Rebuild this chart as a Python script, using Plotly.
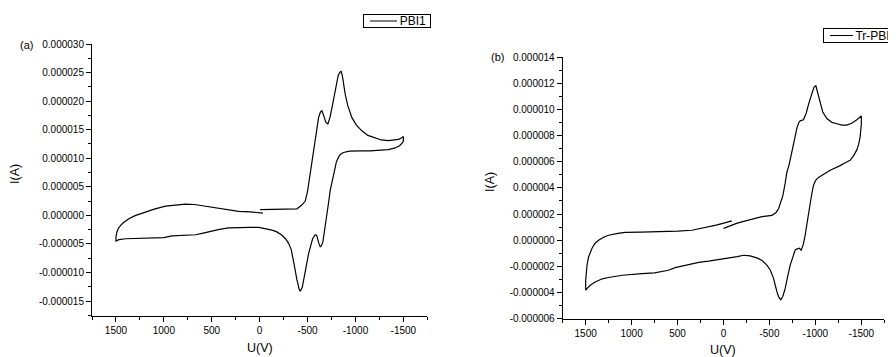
import plotly.graph_objects as go

# ---------------- data (U in V, I in microampere) ----------------
u_pbi1 = [-5, -100, -200, -300, -389, -440, -476, -500, -511, -528, -545, -565, -580, -600, -615,
          -635, -650, -668, -690, -712, -735, -760, -790, -820, -840, -851, -865, -880, -893, -920,
          -963, -1010, -1067, -1130, -1206, -1270, -1344, -1400, -1449, -1480, -1500,
          -1500, -1490, -1460, -1414, -1344, -1250, -1150, -1050, -997, -940, -875, -845, -823, -800,
          -789, -770, -750, -737, -720, -702, -685, -670, -660, -645, -632, -620, -608, -595, -580,
          -565, -553, -535, -511, -490, -470, -459, -445, -424, -410, -400, -389, -370, -354, -330,
          -302, -270, -233, -180, -129, -60, 10, 100, 200, 323, 420, 531, 600, 670, 800, 913, 1000,
          1100, 1261, 1400, 1469, 1500,
          1500, 1490, 1475, 1451, 1420, 1365, 1300, 1191, 1100, 983, 880, 774, 680, 566, 470, 392,
          300, 219, 100, 10, -35]
i_pbi1 = [1.0, 1.05, 1.0, 1.05, 1.15, 1.8, 2.5, 4.2, 5.5, 7.0, 9.0, 11.2, 12.8, 15.5, 17.1,
          18.1, 18.3, 17.5, 16.3, 16.0, 17.2, 19.3, 22.0, 24.5, 25.1, 25.2, 24.3, 22.5, 21.2, 19.2,
          17.1, 15.8, 14.8, 14.0, 13.5, 13.2, 13.1, 13.15, 13.3, 13.55, 13.8,
          13.0, 12.7, 12.2, 11.8, 11.5, 11.35, 11.3, 11.3, 11.3, 11.25, 11.0, 10.7, 10.2, 9.3,
          8.4, 7.0, 5.5, 4.4, 2.3, 0.3, -2.0, -3.8, -4.65, -5.3, -5.5, -5.0, -4.1, -3.5, -3.4,
          -3.7, -4.1, -5.2, -6.7, -8.6, -10.5, -11.5, -12.6, -13.3, -12.8, -12.0, -11.3, -9.5, -7.85, -6.0,
          -4.9, -4.1, -3.5, -2.9, -2.6, -2.3, -2.1, -2.1, -2.15, -2.2, -2.45, -2.8, -3.15, -3.4, -3.55, -3.6, -3.9,
          -3.95, -4.0, -4.1, -4.25, -4.5,
          -3.8, -2.9, -2.3, -1.74, -1.25, -0.6, -0.05, 0.6, 1.1, 1.6, 1.8, 1.95, 1.9, 1.6, 1.3, 1.05,
          0.8, 0.7, 0.6, 0.55, 0.4]

u_trpbi = [0, -73, -150, -250, -326, -420, -526, -570, -599, -625, -646, -670, -690, -715, -750,
           -780, -800, -820, -834, -870, -900, -930, -960, -985, -1005, -1025, -1052, -1080, -1125,
           -1180, -1234, -1290, -1343, -1400, -1451, -1490, -1500,
           -1500, -1490, -1487, -1470, -1451, -1420, -1378, -1320, -1270, -1161, -1080, -1034, -1005,
           -979, -955, -936, -910, -889, -870, -855, -845, -825, -805, -790, -780, -755, -726, -700,
           -671, -645, -624, -605, -588, -565, -544, -510, -472, -420, -363, -290, -218, -150, -109,
           -30, 36, 163, 270, 381, 450, 526, 600, 670, 750, 888, 1000, 1100, 1251, 1320, 1396, 1450,
           1486, 1500,
           1500, 1495, 1485, 1469, 1450, 1432, 1400, 1360, 1300, 1251, 1150, 1070, 900, 707, 500,
           344, 250, 163, 80, 17, -40, -91]
i_trpbi = [0.9, 1.1, 1.3, 1.5, 1.66, 1.8, 1.9, 2.1, 2.4, 2.9, 3.4, 4.3, 5.2, 5.8, 7.0,
           7.9, 8.6, 9.0, 9.12, 9.2, 9.7, 10.5, 11.2, 11.7, 11.8, 11.3, 10.45, 9.8, 9.3,
           9.0, 8.9, 8.8, 8.8, 8.95, 9.2, 9.4, 9.5,
           8.9, 8.2, 7.9, 7.3, 6.9, 6.5, 6.1, 5.9, 5.7, 5.35, 5.0, 4.8, 4.6,
           4.2, 3.3, 2.4, 1.3, 0.4, -0.3, -0.7, -0.76, -0.62, -0.64, -0.7, -0.76, -1.3, -1.9, -2.7,
           -3.7, -4.3, -4.55, -4.4, -4.1, -3.5, -2.9, -2.3, -1.9, -1.55, -1.35, -1.2, -1.15, -1.25, -1.3,
           -1.4, -1.45, -1.6, -1.7, -1.86, -1.95, -2.1, -2.3, -2.42, -2.5, -2.55, -2.62, -2.68, -2.85, -2.95, -3.2, -3.45,
           -3.7, -3.82,
           -3.06, -2.5, -1.9, -1.3, -0.9, -0.64, -0.25, 0.0, 0.25, 0.38, 0.52, 0.59, 0.62, 0.64, 0.7,
           0.76, 0.88, 1.0, 1.15, 1.27, 1.38, 1.48]

series_names = ["PBI1", "Tr-PBI"]

x_tickvals = [1500, 1000, 500, 0, -500, -1000, -1500]
x_ticktext = ["1500", "1000", "500", "0", "-500", "-1000", "-1500"]

ya_tickvals = [-15e-6, -10e-6, -5e-6, 0, 5e-6, 10e-6, 15e-6, 20e-6, 25e-6, 30e-6]
ya_ticktext = ["-0.000015", "-0.000010", "-0.000005", "0.000000", "0.000005",
               "0.000010", "0.000015", "0.000020", "0.000025", "0.000030"]

yb_tickvals = [-6e-6, -4e-6, -2e-6, 0, 2e-6, 4e-6, 6e-6, 8e-6, 10e-6, 12e-6, 14e-6]
yb_ticktext = ["-0.000006", "-0.000004", "-0.000002", "0.000000", "0.000002", "0.000004",
               "0.000006", "0.000008", "0.000010", "0.000012", "0.000014"]

W, H = 896, 357
OFF = 8  # page body margin
FONT = "Arial, Liberation Sans, sans-serif"


def px(x):
    return (x - OFF) / W


def py(y):
    return 1 - (y - OFF) / H


fig = go.Figure()
fig.add_trace(go.Scatter(x=u_pbi1, y=[v * 1e-6 for v in i_pbi1], mode="lines", name=series_names[0],
                         line=dict(color="black", width=1.2), xaxis="x", yaxis="y", showlegend=False))
fig.add_trace(go.Scatter(x=u_trpbi, y=[v * 1e-6 for v in i_trpbi], mode="lines", name=series_names[1],
                         line=dict(color="black", width=1.2), xaxis="x2", yaxis="y2", showlegend=False))


def xax(domain, anchor):
    return dict(domain=domain, anchor=anchor, range=[1750, -1750], tickmode="array",
                tickvals=x_tickvals, ticktext=x_ticktext, ticks="outside", ticklen=5, tickwidth=1,
                tickcolor="black", showline=True, linecolor="black", linewidth=1, showgrid=False,
                zeroline=False, tickfont=dict(size=10, color="black", family=FONT),
                minor=dict(ticks="outside", ticklen=3, tickwidth=1, tickcolor="black",
                           tick0=0, dtick=250, showgrid=False),
                automargin=False)


def yax(domain, anchor, rng, tv, tt, minor_dt):
    return dict(domain=domain, anchor=anchor, range=rng, tickmode="array", tickvals=tv, ticktext=tt,
                ticks="outside", ticklen=5, tickwidth=1, tickcolor="black", showline=True,
                linecolor="black", linewidth=1, showgrid=False, zeroline=False,
                tickfont=dict(size=10, color="black", family=FONT),
                minor=dict(ticks="outside", ticklen=3, tickwidth=1, tickcolor="black",
                           tick0=0, dtick=minor_dt, showgrid=False),
                automargin=False)


fig.update_layout(
    width=W, height=H,
    margin=dict(l=0, r=0, t=0, b=0, pad=0, autoexpand=False),
    paper_bgcolor="white", plot_bgcolor="white",
    font=dict(family=FONT, color="black", size=10),
    xaxis=xax([px(92), px(427.3)], "y"),
    yaxis=yax([py(315.7), py(44)], "x", [-17.57e-6, 30e-6], ya_tickvals, ya_ticktext, 2.5e-6),
    xaxis2=xax([px(562.7), px(884.3)], "y2"),
    yaxis2=yax([py(318.7), py(57)], "x2", [-6e-6, 14e-6], yb_tickvals, yb_ticktext, 1e-6),
    showlegend=False,
)

annots = [
    dict(text="(a)", x=26, y=45),
    dict(text="(b)", x=497, y=57),
    dict(text="U(V)", x=259.7, y=348.3, size=12.5),
    dict(text="U(V)", x=723.3, y=350, size=12.5),
    dict(text="I(A)", x=15, y=174, size=12.5, angle=-90),
    dict(text="I(A)", x=490, y=182, size=12.5, angle=-90),
]
for a in annots:
    fig.add_annotation(text=a["text"], x=px(a["x"]), y=py(a["y"]), xref="paper", yref="paper",
                       xanchor="center", yanchor="middle", showarrow=False,
                       textangle=a.get("angle", 0),
                       font=dict(size=a.get("size", 11), color="black", family=FONT))

# legend boxes (box left, box top, box width, box height, line x0, line x1)
legend_boxes = [
    (363, 14, 68, 14, 370, 397),
    (822.7, 28, 72, 15, 830, 853),
]
for name, (bx, by, bw, bh, lx0, lx1) in zip(series_names, legend_boxes):
    fig.add_annotation(text=name + " ", x=px(bx), y=py(by), xref="paper", yref="paper",
                       xanchor="left", yanchor="top", showarrow=False, align="right",
                       width=bw - 4, height=bh - 4, borderpad=1, bordercolor="black", borderwidth=1,
                       bgcolor="rgba(0,0,0,0)", valign="middle",
                       font=dict(size=12, color="black", family=FONT))
    fig.add_shape(type="line", xref="paper", yref="paper", x0=px(lx0), x1=px(lx1),
                  y0=py(by + bh / 2), y1=py(by + bh / 2), line=dict(color="black", width=1),
                  layer="above")

fig.write_html("out.html")
